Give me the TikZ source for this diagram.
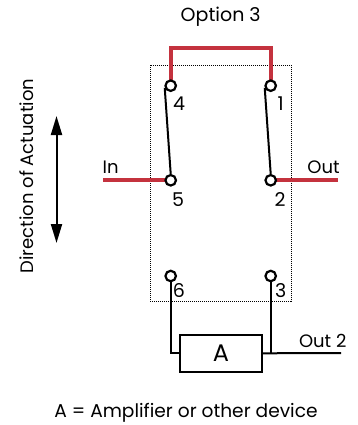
\documentclass[tikz,border=0pt]{standalone}
\usepackage{fontspec}
\setmainfont{Poppins}
\usetikzlibrary{arrows.meta}
\tikzset{
  term/.style={circle,draw=black,fill=white,line width=2.2pt,inner sep=0pt,minimum size=10.5pt},
  redw/.style={draw={rgb,255:red,196;green,50;blue,62},line width=4.2pt,line cap=butt},
  blk/.style={draw=black,line width=2pt},
  lab/.style={inner sep=0pt,font=\fontsize{18}{18}\selectfont},
  numlab/.style={inner sep=0pt,font=\fontsize{19}{19}\selectfont},
}
\begin{document}
\begin{tikzpicture}[x=1pt,y=-1pt]
\useasboundingbox (0,0) rectangle (357,425);
\node[draw=black,line width=0.9pt,dash pattern=on 1pt off 1pt,inner sep=0pt,minimum width=141pt,minimum height=236pt] (frame) at (220.5,183.3) {};
\coordinate (inl) at (103,180.3);
\coordinate (outr) at (338,180.3);
\coordinate (tl) at (170.7,48.3);
\coordinate (tr) at (270.7,48.3);
\coordinate (outtwo) at (341,353);
\draw[redw,line join=miter] (170.7,80) -- (tl) -- (tr) -- (270.7,80);
\draw[redw] (inl) -- (170.7,180.3);
\draw[redw] (270.7,180.3) -- (outr);
\node[term] (n4) at (170.7,85.7) {};
\node[term] (n1) at (270.7,85.7) {};
\node[term] (n5) at (170.7,180.3) {};
\node[term] (n2) at (270.7,180.3) {};
\node[term] (n6) at (170.7,276) {};
\node[term] (n3) at (270.7,276) {};
\node[draw=black,line width=2pt,fill=white,minimum width=82pt,minimum height=37pt,inner sep=0pt,font=\fontsize{24}{24}\selectfont] (amp) at (221,353.3) {A};
\draw[blk] (n4.200) -- (n5.north);
\draw[blk] (n1.200) -- (n2.north);
\draw[blk] (n6.south) |- (amp.west);
\draw[blk] (n3.south) -- (n3.south |- amp.east);
\draw[blk] (amp.east) -- (outtwo);
\coordinate (dtop) at (56.5,116);
\coordinate (dbot) at (56.5,243);
\draw[line width=2pt,{Triangle[length=19pt,width=11pt]}-{Triangle[length=19pt,width=11pt]}] (dtop) -- (dbot);
\node[numlab] (l4) at (179,104) {4};
\node[numlab] (l1) at (280.7,104) {1};
\node[numlab] (l5) at (178,200) {5};
\node[numlab] (l2) at (280,200) {2};
\node[numlab] (l6) at (179,290.7) {6};
\node[numlab] (l3) at (280.7,290.7) {3};
\node[lab] (lin) at (110.7,167) {In};
\node[lab] (lout) at (323.5,167) {Out};
\node[lab] (lout2) at (322.7,341) {Out 2};
\node[inner sep=0pt,font=\fontsize{19}{19}\selectfont] (lopt) at (220.7,17) {Option 3};
\node[inner sep=0pt,font=\fontsize{18.6}{19}\selectfont] (lbot) at (186,412.5) {A = Amplifier or other device};
\node[lab,rotate=90] (ldir) at (27,176) {Direction of Actuation};
\end{tikzpicture}
\end{document}
